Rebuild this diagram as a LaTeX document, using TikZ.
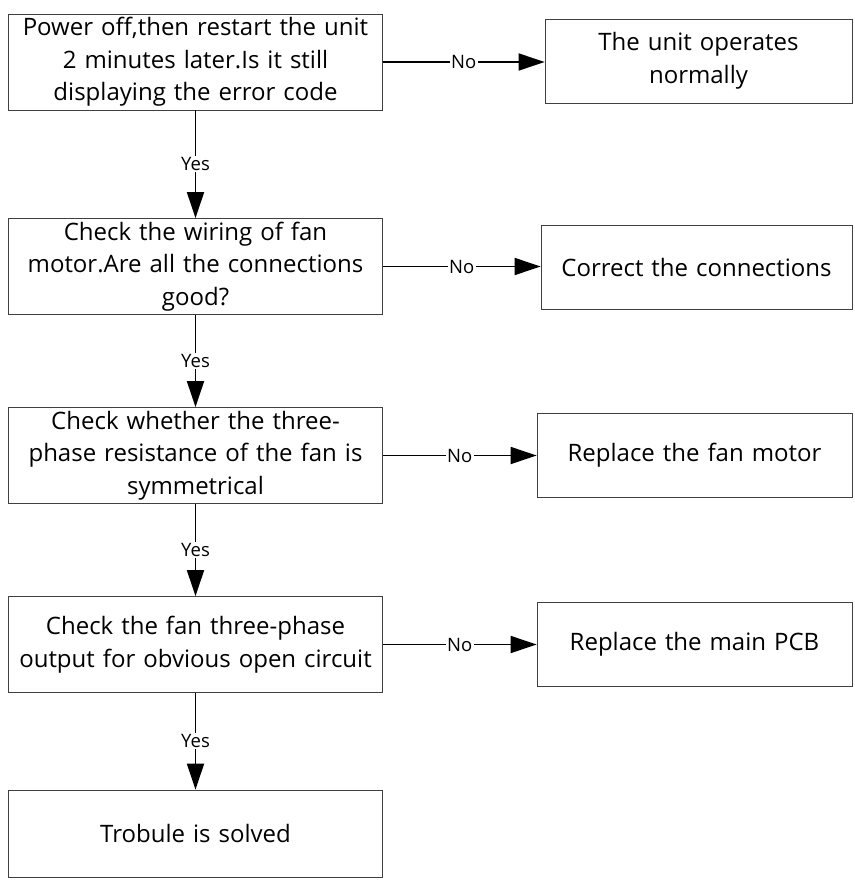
\documentclass[tikz,border=0pt]{standalone}
\usepackage{fontspec}
\setmainfont{Open Sans}
\usetikzlibrary{arrows.meta, positioning}

\begin{document}
\begin{tikzpicture}[x=1pt, y=-1pt,
        check/.style={rectangle, draw=black!75, line width=0.8pt, fill=white, minimum width=374pt, minimum height=96pt, text width=368pt, align=center, inner sep=0pt, font=\fontsize{24}{32.5}\selectfont},
        result/.style={check, minimum height=84pt, text width=300pt},
        flow/.style={-{Triangle[length=26pt, width=17pt]}, line width=1.8pt, draw=black},
        answer/.style={font=\fontsize{18.5}{20}\selectfont, fill=white, inner sep=1.5pt}
    ]
        \useasboundingbox (0,0) rectangle (854,880);

        % Left column: checks
        \node[check] (restart) at (195.5, 62) {Power off,then restart the unit\\2 minutes later.Is it still\\displaying the error code};
        \node[check] (wiring) at (195.5, 266.5) {Check the wiring of fan\\motor.Are all the connections\\good?};
        \node[check] (resist) at (195.5, 455.5) {Check whether the three-\\phase resistance of the fan is\\symmetrical};
        \node[check] (output) at (195.5, 644.5) {Check the fan three-phase\\output for obvious open circuit};
        \node[check, minimum height=87pt] (solved) at (195.5, 833.5) {Trobule is solved};

        % Right column: results
        \node[result, minimum width=307pt] (normal) at (698.5, 61) {The unit operates\\normally};
        \node[result, minimum width=311pt] (correct) at (696.5, 267.5) {Correct the connections};
        \node[result, minimum width=315pt] (motor) at (694.5, 455.5) {Replace the fan motor};
        \node[result, minimum width=315pt] (pcb) at (694.5, 644) {Replace the main PCB};

        % Yes branches
        \draw[flow] (restart) -- (wiring) node[midway, answer] {Yes};
        \draw[flow] (wiring) -- (resist) node[midway, answer] {Yes};
        \draw[flow] (resist) -- (output) node[midway, answer] {Yes};
        \draw[flow] (output) -- (solved) node[midway, answer] {Yes};

        % No branches
        \draw[flow] (restart.east) -- (restart.east -| normal.west) node[midway, answer] {No};
        \draw[flow] (wiring.east) -- (wiring.east -| correct.west) node[midway, answer] {No};
        \draw[flow] (resist.east) -- (resist.east -| motor.west) node[midway, answer] {No};
        \draw[flow] (output.east) -- (output.east -| pcb.west) node[midway, answer] {No};
    \end{tikzpicture}
\end{document}
